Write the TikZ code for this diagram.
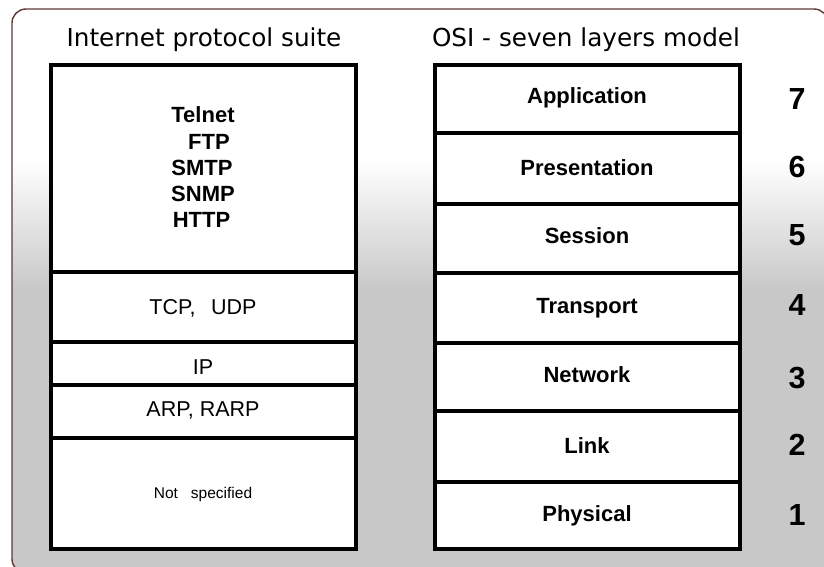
\documentclass[tikz,border=0pt]{standalone}
\usepackage{fontspec}
\setmainfont{Liberation Sans}
\newfontfamily\titlefont{DejaVu Sans}
\definecolor{bggrey}{RGB}{200,200,200}
\definecolor{framecol}{RGB}{95,55,55}
\begin{document}
\begin{tikzpicture}[x=1pt,y=-1pt,
  cell/.style={draw=black, line width=4pt, fill=white, inner sep=0pt, outer sep=0pt},
  osicell/.style={cell, minimum width=305pt},
  ipcell/.style={cell, minimum width=304.5pt},
  title/.style={anchor=base, inner sep=0pt, font=\titlefont\fontsize{24.7}{25}\selectfont},
  layer/.style={anchor=base, inner sep=0pt, font=\fontsize{22}{22}\selectfont\bfseries},
  proto/.style={anchor=base, inner sep=0pt, font=\fontsize{21.5}{22}\selectfont},
  num/.style={anchor=base, inner sep=0pt, font=\fontsize{30.5}{31}\selectfont\bfseries}]
\useasboundingbox (0,0) rectangle (824,567);

% background: white on top, fading to grey
\begin{scope}
  \clip[rounded corners=14pt] (12,9) rectangle (828,573);
  \fill[white] (0,0) rectangle (830,160);
  \shade[top color=white, bottom color=bggrey] (0,159.5) rectangle (830,290);
  \fill[bggrey] (0,289.5) rectangle (830,580);
\end{scope}
\draw[framecol, line width=1.4pt, rounded corners=14pt] (12,9) rectangle (828,573);

% titles
\node[title] (ttl-ip)  at (204,46.7) {Internet protocol suite};
\node[title] (ttl-osi) at (586,46.7) {OSI - seven layers model};

% Internet protocol suite column
\node[ipcell, minimum height=207pt] (c-app) at (203.25,168.5) {};
\node[ipcell, minimum height=70pt]  (c-tcp) at (203.25,307) {};
\node[ipcell, minimum height=43pt]  (c-ip)  at (203.25,363.5) {};
\node[ipcell, minimum height=53pt]  (c-arp) at (203.25,411.5) {};
\node[ipcell, minimum height=111pt] (c-ns)  at (203.25,493.5) {};

\node[layer] (telnet) at (203,122.7) {Telnet};
\node[layer] (ftp)    at (209,149.3) {FTP};
\node[layer] (smtp)   at (202,175)   {SMTP};
\node[layer] (snmp)   at (203,201.7) {SNMP};
\node[layer] (http)   at (201.5,227.3) {HTTP};

\node[proto] (tcp) at (203,314)   {TCP,\hspace{15.5pt}UDP};
\node[proto] (ip)  at (203,374)   {IP};
\node[proto] (arp) at (203,416.7) {ARP, RARP};
\node[anchor=base, inner sep=0pt, font=\fontsize{15.5}{16}\selectfont] (ns) at (203,498.3) {Not\hspace{13pt}specified};

% OSI column
\node[osicell, minimum height=68pt]   (o7) at (587,99)     {};
\node[osicell, minimum height=71pt]   (o6) at (587,168.5)  {};
\node[osicell, minimum height=68.5pt] (o5) at (587,238.25) {};
\node[osicell, minimum height=70.5pt] (o4) at (587,307.75) {};
\node[osicell, minimum height=68pt]   (o3) at (587,377)    {};
\node[osicell, minimum height=71pt]   (o2) at (587,446.5)  {};
\node[osicell, minimum height=67pt]   (o1) at (587,515.5)  {};

\node[layer] (l7) at (587,104)   {Application};
\node[layer] (l6) at (587,175)   {Presentation};
\node[layer] (l5) at (587,243.5) {Session};
\node[layer] (l4) at (587,313.5) {Transport};
\node[layer] (l3) at (587,382.5) {Network};
\node[layer] (l2) at (587,453)   {Link};
\node[layer] (l1) at (587,521.5) {Physical};

\node[num] (n7) at (797,110) {7};
\node[num] (n6) at (797,177) {6};
\node[num] (n5) at (797,245) {5};
\node[num] (n4) at (797,315) {4};
\node[num] (n3) at (797,388) {3};
\node[num] (n2) at (797,455) {2};
\node[num] (n1) at (797,525) {1};
\end{tikzpicture}
\end{document}
